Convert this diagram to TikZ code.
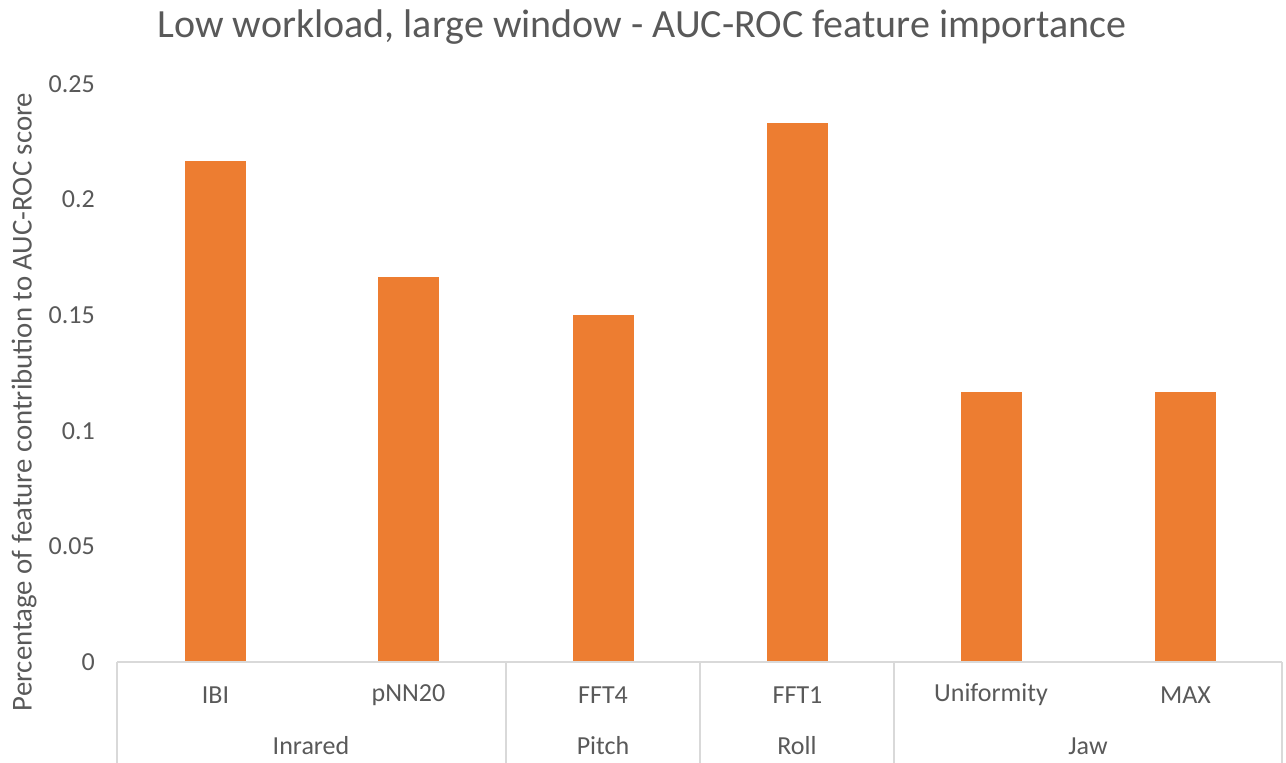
\documentclass[tikz,border=0pt]{standalone}
\usepackage{fontspec}
\setmainfont{Carlito}
\definecolor{barorange}{HTML}{ED7D31}
\definecolor{labelgray}{HTML}{595959}
\definecolor{axisgray}{HTML}{D9D9D9}
\begin{document}
\begin{tikzpicture}
[x=1pt,y=-1pt,
 bardecorate/.style={fill=barorange,draw=none},%
 linedecorate/.style={draw=axisgray,line width=1.5pt},%
 textdecorate/.style={text=labelgray,inner sep=0pt,font=\fontsize{26}{30}\selectfont},%
 ticklabel/.style={textdecorate,anchor=east}]
\useasboundingbox (0,0) rectangle (1286,763);
%% title and axis label
\node (title) at (642,27) [textdecorate,font=\fontsize{40}{46}\selectfont] {Low workload, large window - AUC-ROC feature importance};
\node (ylabel) at (24,402) [textdecorate,font=\fontsize{28.8}{32}\selectfont,rotate=90] {Percentage of feature contribution to AUC-ROC score};
%% value axis labels
\foreach \tick/\name in {0/t0, 0.05/t1, 0.1/t2, 0.15/t3, 0.2/t4, 0.25/t5}
{
  \node (\name) at (95,{662-\tick*2312}) [ticklabel] {\tick};
}
%% bars and feature labels
\foreach \feature/\x/\value in {IBI/215.5/0.2167, pNN20/408.5/0.1667,
  FFT4/603/0.15, FFT1/797.5/0.2333, Uniformity/991/0.1167, MAX/1185.5/0.1167}
{
  \fill[bardecorate] (\x-30.5,662) rectangle (\x+30.5,{662-\value*2312});
  \node (lbl\feature) at (\x,695) [textdecorate] {\feature};
}
%% group labels
\foreach \group/\x in {Inrared/311, Pitch/603, Roll/797, Jaw/1088}
{
  \node (grp\group) at (\x,746) [textdecorate] {\group};
}
%% category axis
\draw[linedecorate] (117,662) -- (1282,662);
\foreach \x in {117, 506, 700, 894, 1282}
{
  \draw[linedecorate] (\x,662) -- (\x,763);
}
\end{tikzpicture}
\end{document}
